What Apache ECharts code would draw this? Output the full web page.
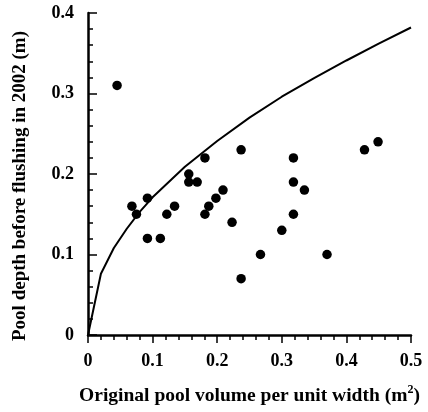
<!DOCTYPE html>
<html>
<head>
<meta charset="utf-8">
<script src="https://cdn.jsdelivr.net/npm/echarts@6/dist/echarts.min.js"></script>
<style>html,body{margin:0;padding:0;background:#fff}#c{width:428px;height:412px}</style>
</head>
<body>
<div id="c"></div>
<script>
var poolVolume = [0.045,0.068,0.075,0.092,0.092,0.112,0.122,0.134,0.156,0.156,0.169,0.181,0.181,0.187,0.198,0.209,0.223,0.237,0.237,0.267,0.300,0.318,0.318,0.318,0.335,0.370,0.428,0.449];
var poolDepth  = [0.31,0.16,0.15,0.17,0.12,0.12,0.15,0.16,0.20,0.19,0.19,0.22,0.15,0.16,0.17,0.18,0.14,0.23,0.07,0.10,0.13,0.22,0.19,0.15,0.18,0.10,0.23,0.24];
var curveX = [0,0.02,0.04,0.06,0.08,0.10,0.15,0.20,0.25,0.30,0.35,0.40,0.45,0.50];
var curveY = [0,0.076,0.108,0.132,0.153,0.171,0.209,0.241,0.270,0.296,0.319,0.341,0.362,0.382];
var xTicks = [0,0.1,0.2,0.3,0.4,0.5];
var yTicks = [0,0.1,0.2,0.3,0.4];

var font = '"Liberation Serif","Times New Roman",serif';
var chart = echarts.init(document.getElementById('c'));
var pts = poolVolume.map(function(v,i){return [v,poolDepth[i]];});
var line = curveX.map(function(v,i){return [v,curveY[i]];});
chart.setOption({
  animation:false,
  backgroundColor:'#fff',
  grid:{left:88,right:17,top:13,bottom:77,containLabel:false},
  xAxis:{
    type:'value',min:xTicks[0],max:xTicks[xTicks.length-1],interval:0.1,
    axisLine:{show:true,onZero:false,lineStyle:{color:'#000',width:2.5}},
    axisTick:{show:true,inside:false,length:8,lineStyle:{color:'#000',width:1.5}},
    minorTick:{show:true,splitNumber:5,length:5,lineStyle:{color:'#000',width:1.5}},
    splitLine:{show:false},
    axisLabel:{margin:17,color:'#000',fontFamily:font,fontWeight:'bold',fontSize:18,
      formatter:function(v){return v===0?'0':String(Math.round(v*10)/10);}},
    name:'{t|Original pool volume per unit width (m}{s|2}{t|)}',
    nameLocation:'middle',nameGap:49,
    nameTextStyle:{rich:{
      t:{fontFamily:font,fontWeight:'bold',fontSize:19.5,color:'#000',verticalAlign:'bottom'},
      s:{fontFamily:font,fontWeight:'bold',fontSize:12,color:'#000',verticalAlign:'top',padding:[0,0,10,0]}
    }}
  },
  yAxis:{
    type:'value',min:yTicks[0],max:yTicks[yTicks.length-1],interval:0.1,
    axisLine:{show:true,onZero:false,lineStyle:{color:'#000',width:2.5}},
    axisTick:{show:true,inside:true,length:9,lineStyle:{color:'#000',width:1.5}},
    minorTick:{show:true,splitNumber:5,length:5,lineStyle:{color:'#000',width:1.5}},
    splitLine:{show:false},
    axisLabel:{margin:14,color:'#000',fontFamily:font,fontWeight:'bold',fontSize:18,
      formatter:function(v){return v===0?'0':String(Math.round(v*10)/10);}}
  },
  graphic:[{
    type:'text',x:20,y:186,rotation:Math.PI/2,
    style:{text:'Pool depth before flushing in 2002 (m)',fill:'#000',
      font:'bold 19px '+font,textAlign:'center',textVerticalAlign:'middle'}
  }],
  series:[
    {type:'line',data:line,showSymbol:false,symbol:'none',smooth:false,
     lineStyle:{color:'#000',width:2},z:2},
    {type:'scatter',data:pts,symbol:'circle',symbolSize:9.5,
     itemStyle:{color:'#000',opacity:1},z:3}
  ]
});
</script>
</body>
</html>
